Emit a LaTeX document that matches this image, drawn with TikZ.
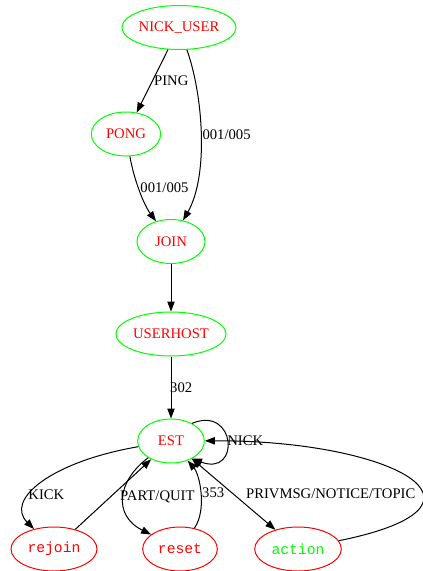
\documentclass[tikz,border=0pt]{standalone}
\usepackage{fontspec}
\setmainfont{Liberation Serif}
\newfontfamily\gvmono{Liberation Mono}
\usetikzlibrary{shapes.geometric,arrows.meta}
\definecolor{gvgreen}{RGB}{0,255,0}
\definecolor{gvred}{RGB}{255,0,0}

\begin{document}
\begin{tikzpicture}[x=0.75pt, y=-0.75pt, >={Triangle[length=7.5pt,width=5.5pt]}, line width=0.75pt,
    every node/.style={font=\fontsize{11}{13}\selectfont},
    state/.style={ellipse, draw=gvgreen, text=gvred, inner sep=0pt, minimum height=33pt},
    term/.style={ellipse, draw=gvred, text=gvred, inner sep=0pt, minimum height=33pt,
        font=\gvmono\fontsize{11}{13}\selectfont},
    lbl/.style={inner sep=1pt}]
    \useasboundingbox (0,0) rectangle (422,571);

    % Zustaende
    \node[state, minimum width=84.75pt] (nickuser) at (179,27.5) {NICK\_USER};
    \node[state, minimum width=52pt] (pong) at (126,134) {PONG};
    \node[state, minimum width=51pt] (join) at (171,241.5) {JOIN};
    \node[state, minimum width=82.5pt] (userhost) at (171,334) {USERHOST};
    \node[state, minimum width=50pt] (est) at (171,441) {EST};
    \node[term, minimum width=64.5pt] (rejoin) at (54,549) {rejoin};
    \node[term, minimum width=56pt] (reset) at (180,549) {reset};
    \node[term, minimum width=65pt, text=gvgreen] (action) at (298,549) {action};

    % Anmeldung
    \draw[->] (nickuser) -- (pong) node[lbl, pos=0.5, right] {PING};
    \draw[->] (nickuser) .. controls (203,95) and (209,175) .. (join)
        node[lbl, pos=0.5, right] {001/005};
    \draw[->] (pong) .. controls (134,180) and (144,205) .. (join)
        node[lbl, pos=0.45, right] {001/005};
    \draw[->] (join) -- (userhost);
    \draw[->] (userhost) -- (est) node[lbl, midway, right, xshift=-2pt] {302};

    % Betrieb
    \draw[->] (est.40) .. controls (236,405) and (241,477) .. (est.-40)
        node[lbl, pos=0.5, right, inner sep=0pt] {NICK};
    \draw[->] (est) .. controls (50,462) and (5,500) .. (rejoin)
        node[lbl, pos=0.63, right, xshift=-3pt] {KICK};
    \draw[->] (rejoin) -- (est);
    \draw[->] (est) .. controls (118,480) and (112,515) .. (reset)
        node[lbl, pos=0.5, right, xshift=-4pt] {PART/QUIT};
    \draw[->] (reset) .. controls (207,510) and (200,475) .. (est)
        node[lbl, pos=0.5, right] {353};
    \draw[<->] (est) -- (action)
        node[lbl, midway, right, xshift=8pt] {PRIVMSG/NOTICE/TOPIC};
    \draw[->] (action) .. controls (515,505) and (390,440) .. (est);
\end{tikzpicture}
\end{document}
